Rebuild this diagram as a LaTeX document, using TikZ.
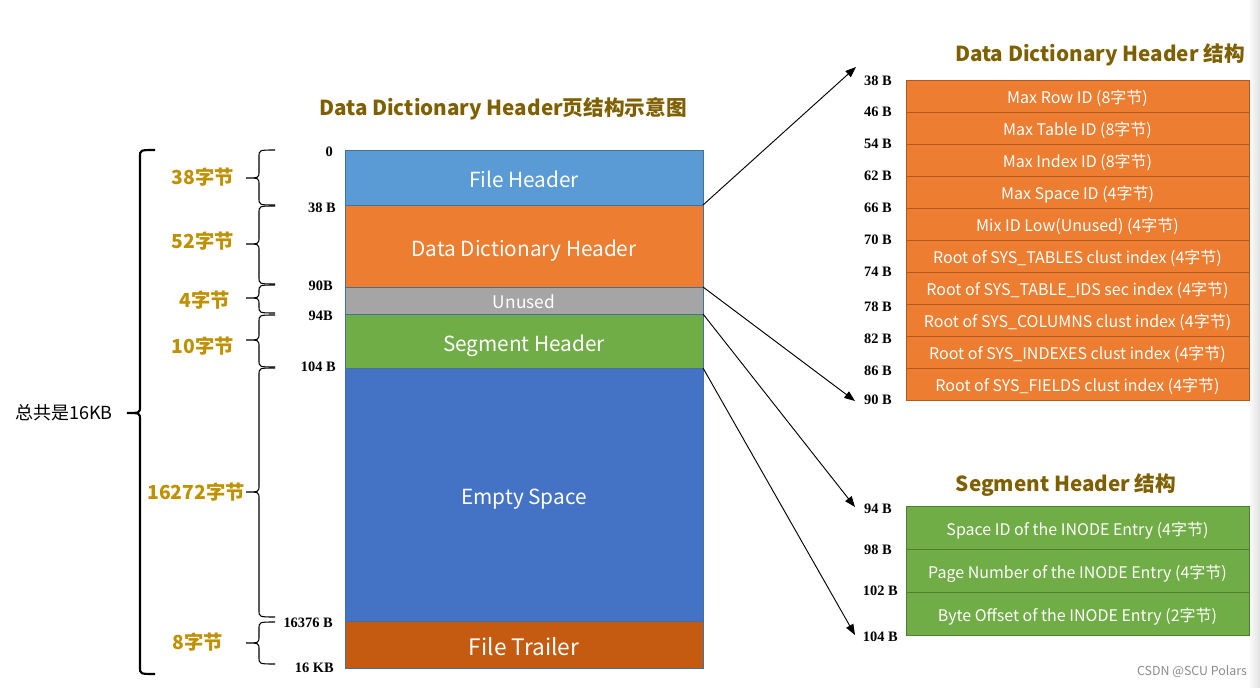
\documentclass[tikz,border=0pt]{standalone}
\usepackage{fontspec}
\setmainfont{Noto Sans CJK SC}
\newfontfamily\tms{Liberation Serif}
\usetikzlibrary{arrows.meta}
\definecolor{cFH}{HTML}{5B9BD5}
\definecolor{cDDH}{HTML}{ED7D31}
\definecolor{cUN}{HTML}{A5A5A5}
\definecolor{cSEG}{HTML}{70AD47}
\definecolor{cEMP}{HTML}{4472C4}
\definecolor{cFT}{HTML}{C55A11}
\definecolor{cTitle}{RGB}{127,96,0}
\definecolor{cGold}{HTML}{BF9000}
\definecolor{cBord}{HTML}{41719C}
\definecolor{cOrB}{HTML}{AE5A21}
\definecolor{cGrB}{HTML}{507E32}
\tikzset{
  seg/.style={draw=cBord, line width=0.6pt, inner sep=0pt, outer sep=0pt, minimum width=268.5pt, text=white, text height=15pt, text depth=0pt, font=\fontsize{15.6}{17}\selectfont},
  ddrow/.style={draw=cOrB, line width=0.6pt, fill=cDDH, inner sep=0pt, outer sep=0pt, minimum width=257.25pt, minimum height=24pt, text=white, text height=11.6pt, text depth=0pt, font=\fontsize{12}{14}\selectfont},
  sgrow/.style={draw=cGrB, line width=0.6pt, fill=cSEG, inner sep=0pt, outer sep=0pt, minimum width=257.25pt, minimum height=32.25pt, text=white, text height=11.6pt, text depth=0pt, font=\fontsize{12}{14}\selectfont},
  off/.style={anchor=east, inner sep=0pt, font=\tms\bfseries\fontsize{10.8}{12}\selectfont},
  gold/.style={inner sep=0pt, text=cGold, font=\bfseries\fontsize{14.5}{16}\selectfont},
  ttl/.style={inner sep=0pt, text=cTitle, font=\bfseries\fontsize{15.5}{17}\selectfont},
  brc/.style={line width=0.8pt},
  arr/.style={line width=0.7pt, -{Triangle[length=8pt,width=6pt]}}
}
\newcommand\mybrc[7][]{\draw[brc,#1] (#2,#5) .. controls (#3,#5) .. (#3,#5+7) -- (#3,#6-7) .. controls (#3,#6) .. (#4,#6) .. controls (#3,#6) .. (#3,#6+7) -- (#3,#7-7) .. controls (#3,#7) .. (#2,#7);}
\begin{document}
\begin{tikzpicture}[x=0.75pt,y=-0.75pt]
\useasboundingbox (0,0) rectangle (1260,688);
\fill[white] (0,0) rectangle (1260,688);
\shade[left color=white, right color=black!12] (1248,0) rectangle (1260,688);

% titles
\node[ttl] (t1) at (503,109) {Data Dictionary Header页结构示意图};
\node[ttl] (t2) at (1100,55) {Data Dictionary Header 结构};
\node[ttl] (t3) at (1066,485) {Segment Header 结构};

% main column
\node[seg, fill=cFH, minimum height=41.25pt] (fh) at (524,177.5) {File Header};
\node[seg, fill=cDDH, minimum height=61.5pt] (ddh) at (524,246) {Data Dictionary Header};
\node[seg, fill=cUN, minimum height=20.25pt, text height=12.4pt, font=\fontsize{13}{14}\selectfont] (un) at (524,300.5) {Unused};
\node[seg, fill=cSEG, minimum height=40.5pt] (sh) at (524,341) {Segment Header};
\node[seg, fill=cEMP, minimum height=189.75pt] (es) at (524,494.5) {Empty Space};
\node[seg, fill=cFT, minimum height=35.25pt, text height=16pt, font=\fontsize{17}{19}\selectfont] (ft) at (524,644.5) {File Trailer};

% offsets main
\node[off] (o0) at (333,152) {0};
\node[off] (o38) at (336,208) {38 B};
\node[off] (o90) at (333,286) {90B};
\node[off] (o94) at (333,316) {94B};
\node[off] (o104) at (336,367) {104 B};
\node[off] (o16376) at (333,623) {16376 B};
\node[off] (o16k) at (334,668) {16 KB};

% braces
\mybrc[line width=1.6pt]{155}{140}{127}{150}{413}{674}
\mybrc{275}{259}{246}{150}{178}{205}
\mybrc{275}{259}{246}{206}{244}{284}
\mybrc{275}{259}{246}{285}{298}{313}
\mybrc{275}{259}{246}{315}{340}{367}
\mybrc{275}{259}{246}{368}{492}{617}
\mybrc{275}{259}{246}{622}{643}{664}

\node[inner sep=0pt, anchor=east, font=\fontsize{13.5}{15}\selectfont] (total) at (113,413) {总共是16KB};
\node[gold] (g1) at (203,177) {38字节};
\node[gold] (g2) at (203,241) {52字节};
\node[gold] (g3) at (205,300) {4字节};
\node[gold] (g4) at (203,346) {10字节};
\node[gold] (g5) at (196,492) {16272字节};
\node[gold] (g6) at (198,642) {8字节};

% DDH struct
\node[ddrow] (d1) at (1077.5,96) {Max Row ID (8字节)};
\node[ddrow] (d2) at (1077.5,128) {Max Table ID (8字节)};
\node[ddrow] (d3) at (1077.5,160) {Max Index ID (8字节)};
\node[ddrow] (d4) at (1077.5,192) {Max Space ID (4字节)};
\node[ddrow] (d5) at (1077.5,224) {Mix ID Low(Unused) (4字节)};
\node[ddrow] (d6) at (1077.5,256) {Root of SYS\_TABLES clust index (4字节)};
\node[ddrow] (d7) at (1077.5,288) {Root of SYS\_TABLE\_IDS sec index (4字节)};
\node[ddrow] (d8) at (1077.5,320) {Root of SYS\_COLUMNS clust index (4字节)};
\node[ddrow] (d9) at (1077.5,352) {Root of SYS\_INDEXES clust index (4字节)};
\node[ddrow] (d10) at (1077.5,384) {Root of SYS\_FIELDS clust index (4字节)};

\node[off] (r38) at (892,81) {38 B};
\node[off] (r46) at (892,112) {46 B};
\node[off] (r54) at (892,144) {54 B};
\node[off] (r62) at (892,176) {62 B};
\node[off] (r66) at (892,208) {66 B};
\node[off] (r70) at (892,240) {70 B};
\node[off] (r74) at (892,272) {74 B};
\node[off] (r78) at (892,307) {78 B};
\node[off] (r82) at (892,339) {82 B};
\node[off] (r86) at (892,371) {86 B};
\node[off] (r90) at (892,400) {90 B};

% Segment struct
\node[sgrow] (s1) at (1077.5,527.5) {Space ID of the INODE Entry (4字节)};
\node[sgrow] (s2) at (1077.5,570.5) {Page Number of the INODE Entry (4字节)};
\node[sgrow] (s3) at (1077.5,613.5) {Byte Offset of the INODE Entry (2字节)};

\node[off] (q94) at (892,509) {94 B};
\node[off] (q98) at (892,550) {98 B};
\node[off] (q102) at (898,591) {102 B};
\node[off] (q104) at (898,637) {104 B};

% arrows
\coordinate (e1) at (856,67);
\coordinate (e2) at (855,401);
\coordinate (e3) at (855,507);
\coordinate (e4) at (855,635);
\draw[arr] (ddh.north east) -- (e1);
\draw[arr] (un.north east) -- (e2);
\draw[arr] (sh.north east) -- (e3);
\draw[arr] (es.north east) -- (e4);

\node[inner sep=0pt, text=black!45, font=\fontsize{9.3}{11}\selectfont] (wm) at (1192,672) {CSDN @SCU Polars};
\end{tikzpicture}
\end{document}
